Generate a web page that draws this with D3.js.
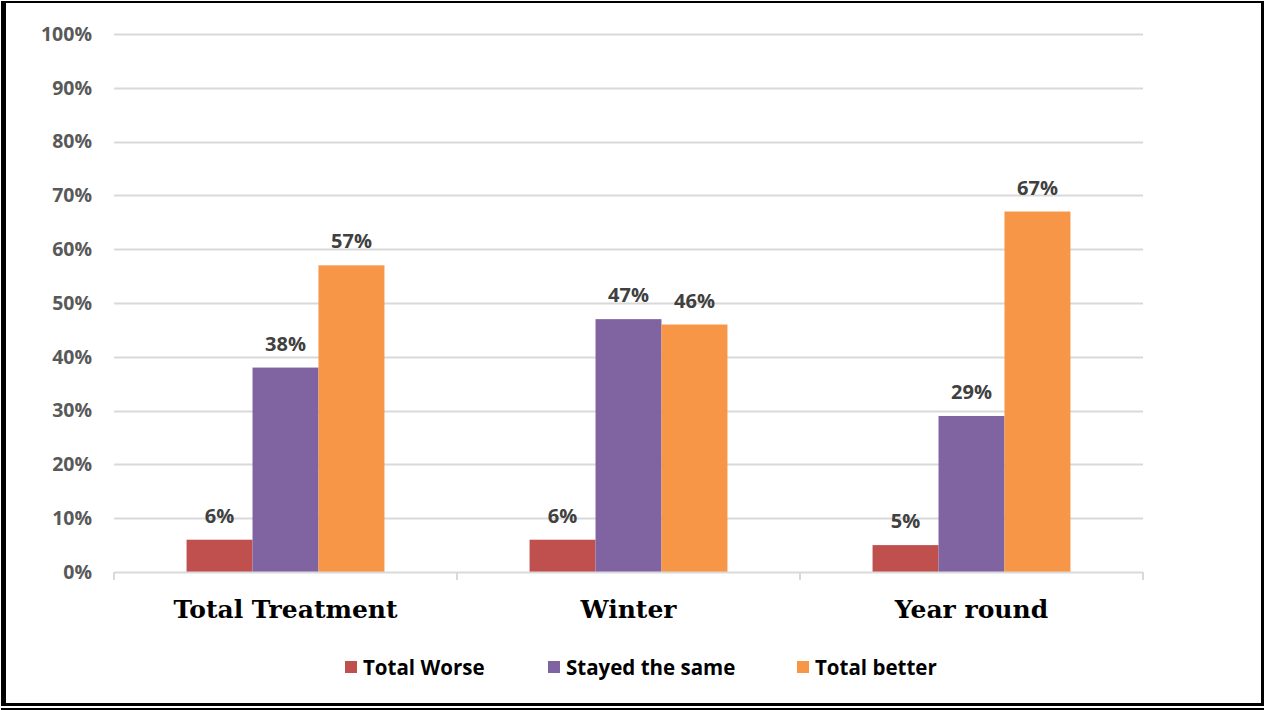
<!DOCTYPE html>
<html>
<head>
<meta charset="utf-8">
<script src="https://cdn.jsdelivr.net/npm/d3@7"></script>
<style>
  html, body { margin: 0; padding: 0; background: #fff; }
  svg { display: block; }
</style>
</head>
<body>
<svg id="chart" width="1265" height="710"></svg>
<script>
// Survey outcome shares by treatment group
const categories = ["Total Treatment", "Winter", "Year round"];
const seriesNames = ["Total Worse", "Stayed the same", "Total better"];
const totalWorse = [6, 6, 5];
const stayedSame = [38, 47, 29];
const totalBetter = [57, 46, 67];
const yTicks = [0, 10, 20, 30, 40, 50, 60, 70, 80, 90, 100];
const colors = ["#C0504D", "#8064A2", "#F79646"];

const seriesValues = [totalWorse, stayedSame, totalBetter];

const svg = d3.select("#chart");
const W = 1265, H = 710;
const plot = { left: 114, right: 1143, top: 34, bottom: 572 };

// Frame around the chart
svg.append("rect").attr("x", 0).attr("y", 0).attr("width", W).attr("height", H).attr("fill", "#fff");
svg.append("rect").attr("x", 1).attr("y", 1).attr("width", 1263).attr("height", 2).attr("fill", "#000");
svg.append("rect").attr("x", 1).attr("y", 1).attr("width", 5).attr("height", 705).attr("fill", "#000");
svg.append("rect").attr("x", 1261).attr("y", 1).attr("width", 3).attr("height", 705).attr("fill", "#000");
svg.append("rect").attr("x", 1).attr("y", 703).attr("width", 1263).attr("height", 3).attr("fill", "#000");
svg.append("rect").attr("x", 1).attr("y", 708).attr("width", 1263).attr("height", 2).attr("fill", "#000");

const y = d3.scaleLinear().domain([0, 100]).range([plot.bottom, plot.top]);
const x0 = d3.scaleBand().domain(categories).range([plot.left, plot.right]).paddingInner(0).paddingOuter(0);
const x1 = d3.scaleBand().domain(seriesNames).range([0, x0.bandwidth()]).paddingInner(0).paddingOuter(1.1);

// Horizontal gridlines
svg.append("g")
  .selectAll("line")
  .data(yTicks.filter(t => t > 0))
  .join("line")
  .attr("x1", plot.left).attr("x2", plot.right)
  .attr("y1", d => Math.round(y(d)) + 0.5).attr("y2", d => Math.round(y(d)) + 0.5)
  .attr("stroke", "#d9d9d9").attr("stroke-width", 2);

// Y axis labels
const yAxis = d3.axisLeft(y).tickValues(yTicks).tickFormat(d => d + "%").tickSize(0).tickPadding(22);
const gy = svg.append("g").attr("transform", `translate(${plot.left},0)`).call(yAxis);
gy.select(".domain").remove();
gy.selectAll("text")
  .attr("font-family", "'Open Sans', sans-serif")
  .attr("font-weight", "bold")
  .attr("font-size", 19.5)
  .attr("fill", "#595959");

// Bars
const groups = svg.append("g")
  .selectAll("g")
  .data(categories)
  .join("g")
  .attr("transform", d => `translate(${x0(d)},0)`);

groups.selectAll("rect")
  .data((c, i) => seriesNames.map((s, j) => ({ s, v: seriesValues[j][i], j })))
  .join("rect")
  .attr("x", d => x1(d.s))
  .attr("y", d => y(d.v))
  .attr("width", x1.bandwidth())
  .attr("height", d => y(0) - y(d.v))
  .attr("fill", d => colors[d.j]);

// Value labels
groups.selectAll("text")
  .data((c, i) => seriesNames.map((s, j) => ({ s, v: seriesValues[j][i], j })))
  .join("text")
  .attr("x", d => x1(d.s) + x1.bandwidth() / 2)
  .attr("y", d => y(d.v) - 17)
  .attr("text-anchor", "middle")
  .attr("font-family", "'Open Sans', sans-serif")
  .attr("font-weight", "bold")
  .attr("font-size", 20)
  .attr("fill", "#404040")
  .text(d => d.v + "%");

// X axis baseline and category separators
const xAxis = svg.append("g");
xAxis.append("line")
  .attr("x1", plot.left).attr("x2", plot.right)
  .attr("y1", plot.bottom + 0.5).attr("y2", plot.bottom + 0.5)
  .attr("stroke", "#d9d9d9").attr("stroke-width", 2);
const sepX = [plot.left, ...categories.map(c => x0(c) + x0.bandwidth())];
xAxis.selectAll("line.sep")
  .data(sepX)
  .join("line")
  .attr("class", "sep")
  .attr("x1", d => d).attr("x2", d => d)
  .attr("y1", plot.bottom).attr("y2", plot.bottom + 8)
  .attr("stroke", "#d9d9d9").attr("stroke-width", 2);

// Category labels
xAxis.selectAll("text")
  .data(categories)
  .join("text")
  .attr("x", d => x0(d) + x0.bandwidth() / 2)
  .attr("y", 618)
  .attr("text-anchor", "middle")
  .attr("font-family", "'DejaVu Serif', serif")
  .attr("font-weight", "bold")
  .attr("font-size", 25)
  .attr("fill", "#000")
  .text(d => d);

// Legend
const legendX = [345, 548, 797];
const legend = svg.append("g")
  .selectAll("g")
  .data(seriesNames)
  .join("g")
  .attr("transform", (d, i) => `translate(${legendX[i]},667)`);
legend.append("rect")
  .attr("x", 0).attr("y", -6).attr("width", 12).attr("height", 12)
  .attr("fill", (d, i) => colors[i]);
legend.append("text")
  .attr("x", 18).attr("y", 7.5)
  .attr("font-family", "'Open Sans', sans-serif")
  .attr("font-weight", "bold")
  .attr("font-size", 20.5)
  .attr("fill", "#000")
  .text(d => d);
</script>
</body>
</html>
